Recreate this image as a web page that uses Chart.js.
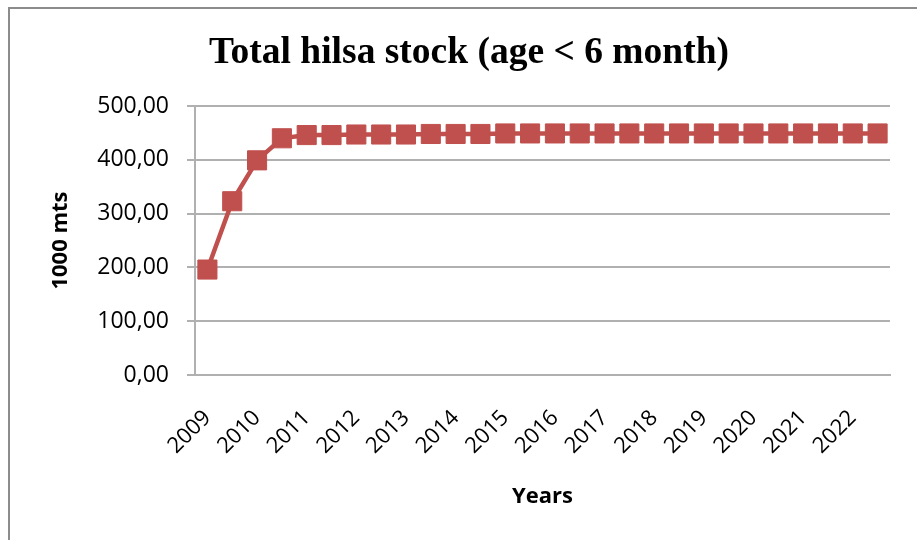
<!DOCTYPE html>
<html>
<head>
<meta charset="utf-8">
<script src="https://cdn.jsdelivr.net/npm/chart.js@4/dist/chart.umd.min.js"></script>
<style>
  html, body { margin: 0; padding: 0; background: #fff; overflow: hidden; }
  #frame {
    position: absolute; left: 8px; top: 7px; width: 940px; height: 560px;
    border-left: 2px solid #8c8c8c; border-top: 2px solid #8c8c8c;
  }
  #chart { position: absolute; left: 10px; top: 9px; }
</style>
</head>
<body>
<div id="frame"></div>
<canvas id="chart" width="918" height="531" style="width:918px;height:531px"></canvas>
<script>
// tick labels shown on the category axis (one per year, every other point)
const years = ["2009", "2010", "2011", "2012", "2013", "2014", "2015",
               "2016", "2017", "2018", "2019", "2020", "2021", "2022"];

// two model steps per year, only the first one gets a label
const periods = years.flatMap(y => [y, ""]);

// stock of hilsa younger than 6 months (1000 mts)
const stock = [196, 323, 399, 440, 446, 446, 447, 447, 447, 448,
               448, 448, 449, 449, 449, 449, 449, 449, 449, 449,
               449, 449, 449, 449, 449, 449, 449, 449];

const yTicks = [0, 100, 200, 300, 400, 500];

const lineColor = "#C0504D";
const gridColor = "#b0b0b0";

const ctx = document.getElementById("chart").getContext("2d");
new Chart(ctx, {
  type: "line",
  data: {
    labels: periods,
    datasets: [{
      label: "Total hilsa stock",
      data: stock,
      borderColor: lineColor,
      borderWidth: 4.5,
      tension: 0,
      pointStyle: "rect",
      pointRadius: 13.5,
      pointBackgroundColor: lineColor,
      pointBorderColor: lineColor,
      pointBorderWidth: 1
    }]
  },
  options: {
    responsive: false,
    animation: false,
    // equal side padding keeps the title centred on the frame
    layout: { padding: { left: 38, right: 38, top: 0, bottom: 0 } },
    plugins: {
      legend: { display: false },
      tooltip: { enabled: false },
      title: {
        display: true,
        text: "Total hilsa stock (age < 6 month)",
        color: "#000",
        font: { family: "'Liberation Serif', 'Times New Roman', serif", size: 37.5, weight: "bold" },
        padding: { top: 22, bottom: 30 }
      }
    },
    scales: {
      x: {
        offset: true,
        grid: { display: false, drawTicks: false },
        border: { display: true, color: gridColor, width: 2 },
        ticks: {
          autoSkip: false,
          minRotation: 45,
          maxRotation: 45,
          padding: 30,
          color: "#000",
          font: { family: "'Open Sans', sans-serif", size: 22 }
        },
        title: {
          display: true,
          text: "Years",
          color: "#000",
          font: { family: "'Open Sans', sans-serif", size: 22, weight: "bold" },
          padding: { top: 0, bottom: 30 }
        },
        afterFit: s => { s.height = 165; }
      },
      y: {
        min: 0,
        max: 500,
        afterBuildTicks: s => { s.ticks = yTicks.map(v => ({ value: v })); },
        grid: { color: gridColor, lineWidth: 2, tickLength: 8 },
        border: { display: true, color: gridColor, width: 2 },
        ticks: {
          padding: 18,
          color: "#000",
          font: { family: "'Open Sans', sans-serif", size: 23 },
          callback: v => v.toFixed(2).replace(".", ",")
        },
        title: {
          display: true,
          text: "1000 mts",
          color: "#000",
          font: { family: "'Open Sans', sans-serif", size: 22, weight: "bold" },
          padding: { top: 0, bottom: 0 }
        },
        afterFit: s => { s.width = 147; }
      }
    }
  }
});
</script>
</body>
</html>
